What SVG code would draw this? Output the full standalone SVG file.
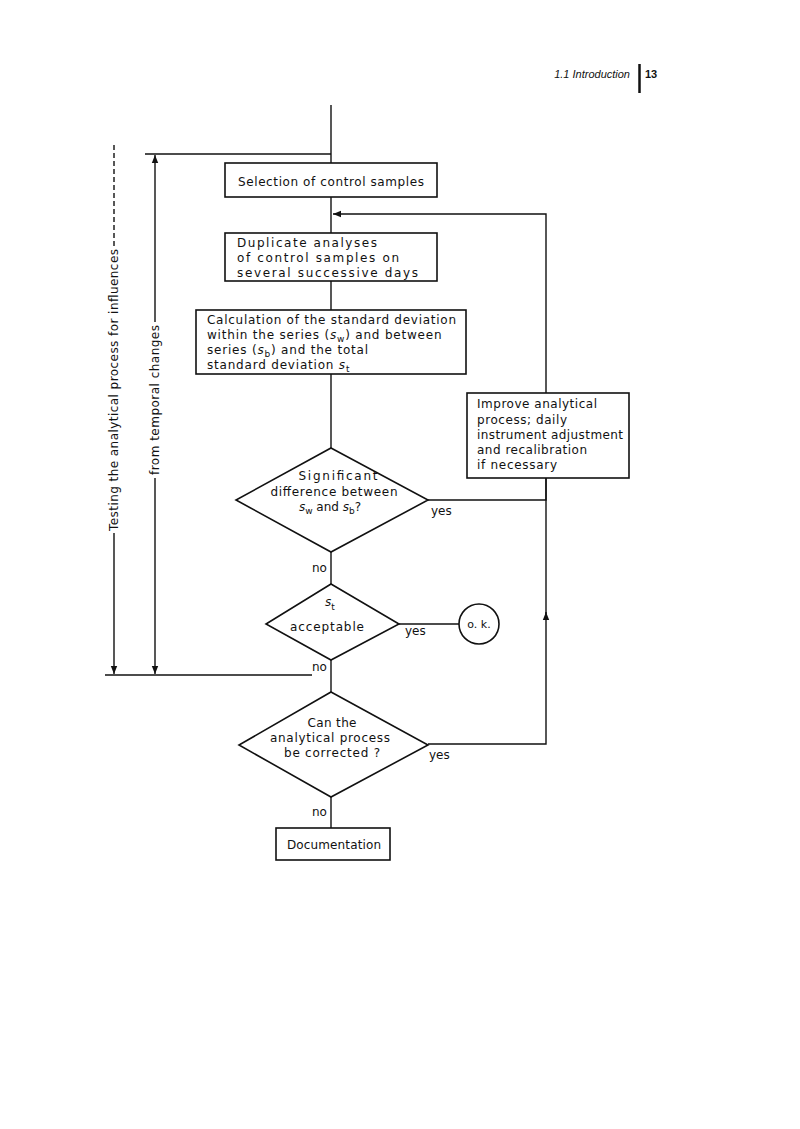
<svg xmlns="http://www.w3.org/2000/svg" width="800" height="1129" viewBox="0 0 800 1129">
<style>
.t{font-family:"DejaVu Sans","Liberation Sans",Arial,sans-serif;font-size:12px;fill:#111}
.c{text-anchor:middle}
.box{fill:#fff;stroke:#111;stroke-width:1.6}
.ln{fill:none;stroke:#111;stroke-width:1.4}
.i{font-style:italic}
.sub{font-size:9px}
.ls{letter-spacing:0.8px}
</style>
<defs>
<marker id="ah" viewBox="0 0 10 10" refX="10" refY="5" markerWidth="8" markerHeight="8" orient="auto" markerUnits="userSpaceOnUse">
<path d="M0,1 L10,5 L0,9 z" fill="#111"/>
</marker>
</defs>
<rect width="800" height="1129" fill="#fff"/>
<g id="header">
<text x="630" y="78" class="t i" style="font-family:'Liberation Sans',Arial,sans-serif;font-size:11px;text-anchor:end">1.1 Introduction</text>
<line x1="639.5" y1="64" x2="639.5" y2="93" stroke="#111" stroke-width="2.5"/>
<text x="645" y="78" class="t" style="font-family:'Liberation Sans',Arial,sans-serif;font-size:11px;font-weight:bold">13</text>
</g>
<g id="connectors">
<line class="ln" x1="331" y1="105" x2="331" y2="163"/>
<line class="ln" x1="145" y1="154" x2="331" y2="154"/>
<line class="ln" x1="331" y1="197" x2="331" y2="233"/>
<path class="ln" d="M546,393 V214 H333" marker-end="url(#ah)"/>
<line class="ln" x1="331" y1="281" x2="331" y2="310"/>
<line class="ln" x1="331" y1="374" x2="331" y2="448"/>
<path class="ln" d="M428,500 H546 V478"/>
<line class="ln" x1="331" y1="552" x2="331" y2="584"/>
<line class="ln" x1="399" y1="624" x2="459" y2="624"/>
<line class="ln" x1="331" y1="660" x2="331" y2="692"/>
<path class="ln" d="M428,744 H546 V612" marker-end="url(#ah)"/>
<line class="ln" x1="546" y1="614" x2="546" y2="478"/>
<line class="ln" x1="331" y1="797" x2="331" y2="828"/>
<line class="ln" x1="105" y1="675" x2="312" y2="675"/>
<line class="ln" x1="114" y1="145" x2="114" y2="248" stroke-dasharray="5,3"/>
<line class="ln" x1="114" y1="533" x2="114" y2="674" marker-end="url(#ah)"/>
<line class="ln" x1="155" y1="322" x2="155" y2="155" marker-end="url(#ah)"/>
<line class="ln" x1="155" y1="478" x2="155" y2="674" marker-end="url(#ah)"/>
<text class="t" x="431" y="515">yes</text>
<text class="t" x="405" y="635">yes</text>
<text class="t" x="429" y="759">yes</text>
<text class="t" x="312" y="572">no</text>
<text class="t" x="312" y="671">no</text>
<text class="t" x="312" y="816">no</text>
<text class="t c" transform="translate(118,390) rotate(-90)" textLength="282" lengthAdjust="spacing">Testing the analytical process for influences</text>
<text class="t c" transform="translate(159,400) rotate(-90)" textLength="150" lengthAdjust="spacing">from temporal changes</text>
</g>
<g id="n1">
<rect class="box" x="225" y="163" width="212" height="34"/>
<text class="t" x="238" y="186" textLength="186" lengthAdjust="spacing">Selection of control samples</text>
</g>
<g id="n2">
<rect class="box" x="225" y="233" width="212" height="48"/>
<text class="t" x="237" y="247" textLength="140" lengthAdjust="spacing">Duplicate analyses</text>
<text class="t" x="237" y="262" textLength="162" lengthAdjust="spacing">of control samples on</text>
<text class="t" x="237" y="277" textLength="181" lengthAdjust="spacing">several successive days</text>
</g>
<g id="n3">
<rect class="box" x="196" y="310" width="270" height="64"/>
<text class="t" x="207" y="324" textLength="249" lengthAdjust="spacing">Calculation of the standard deviation</text>
<text class="t ls" x="207" y="339">within the series (<tspan class="i">s</tspan><tspan dy="3" class="sub">w</tspan><tspan dy="-3">) and between</tspan></text>
<text class="t ls" x="207" y="354">series (<tspan class="i">s</tspan><tspan dy="3" class="sub">b</tspan><tspan dy="-3">) and the total</tspan></text>
<text class="t ls" x="207" y="369">standard deviation <tspan class="i">s</tspan><tspan dy="3" class="sub">t</tspan></text>
</g>
<g id="n4">
<rect class="box" x="467" y="393" width="162" height="85"/>
<text class="t" x="477" y="408" textLength="120" lengthAdjust="spacing">Improve analytical</text>
<text class="t" x="477" y="424" textLength="90" lengthAdjust="spacing">process; daily</text>
<text class="t" x="477" y="439" textLength="146" lengthAdjust="spacing">instrument adjustment</text>
<text class="t" x="477" y="454" textLength="110" lengthAdjust="spacing">and recalibration</text>
<text class="t" x="477" y="469" textLength="80" lengthAdjust="spacing">if necessary</text>
</g>
<g id="d1">
<polygon class="box" points="331,448 428,500 331,552 236,500"/>
<text class="t c" x="338" y="480" textLength="79" lengthAdjust="spacing">Significant</text>
<text class="t c" x="334" y="496" textLength="127" lengthAdjust="spacing">difference between</text>
<text class="t c" x="330" y="511"><tspan class="i">s</tspan><tspan dy="3" class="sub">w</tspan><tspan dy="-3"> and </tspan><tspan class="i">s</tspan><tspan dy="3" class="sub">b</tspan><tspan dy="-3">?</tspan></text>
</g>
<g id="d2">
<polygon class="box" points="331,584 399,624 331,660 266,624"/>
<text class="t c" x="330" y="606"><tspan class="i">s</tspan><tspan dy="4" class="sub">t</tspan></text>
<text class="t c" x="327" y="631" textLength="74" lengthAdjust="spacing">acceptable</text>
</g>
<g id="ok">
<circle class="box" cx="479" cy="624" r="20"/>
<text class="t c" x="479" y="628" style="font-size:11px">o. k.</text>
</g>
<g id="d3">
<polygon class="box" points="331,692 428,745 331,797 239,745"/>
<text class="t c" x="332" y="727" textLength="49" lengthAdjust="spacing">Can the</text>
<text class="t c" x="330" y="742" textLength="120" lengthAdjust="spacing">analytical process</text>
<text class="t c" x="332" y="757" textLength="96" lengthAdjust="spacing">be corrected ?</text>
</g>
<g id="n5">
<rect class="box" x="276" y="828" width="114" height="32"/>
<text class="t c" x="334" y="849" textLength="94" lengthAdjust="spacing">Documentation</text>
</g>
</svg>
